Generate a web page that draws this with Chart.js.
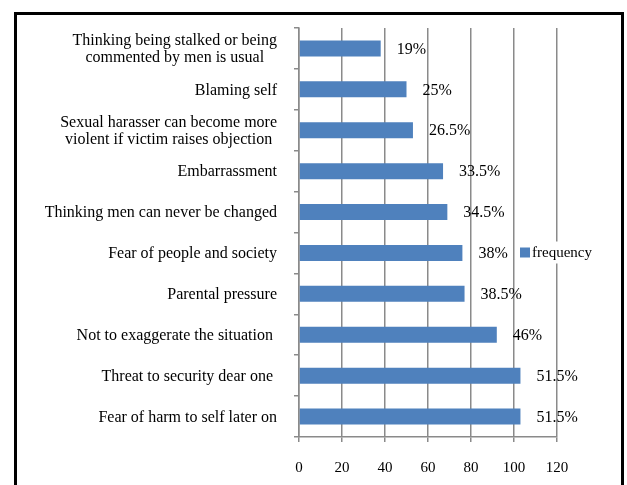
<!DOCTYPE html>
<html>
<head>
<meta charset="utf-8">
<script src="https://cdn.jsdelivr.net/npm/chart.js@4/dist/chart.umd.min.js"></script>
<style>
  body { margin: 0; background: #fff; }
  #frame { position: absolute; left: 14px; top: 12px; width: 604px; height: 500px; border: 3px solid #000; }
  #c { position: absolute; left: 0; top: 0; }
</style>
</head>
<body>
<div id="frame"></div>
<canvas id="c" width="627" height="485"></canvas>
<script>
// categories, top to bottom
const reasons = [
	["Thinking being stalked or being", "commented by men is usual"],
	"Blaming self",
	["Sexual harasser can become more", "violent if victim raises objection"],
	"Embarrassment",
	"Thinking men can never be changed",
	"Fear of people and society",
	"Parental pressure",
	"Not to exaggerate the situation ",
	"Threat to security dear one ",
	"Fear of harm to self later on"
];
const frequency = [38, 50, 53, 67, 69, 76, 77, 92, 103, 103];
const percentLabels = ["19%", "25%", "26.5%", "33.5%", "34.5%", "38%", "38.5%", "46%", "51.5%", "51.5%"];
const xTicks = [0, 20, 40, 60, 80, 100, 120];

const serif16 = '16px "Liberation Serif", "Times New Roman", serif';
const serif15 = '15px "Liberation Serif", "Times New Roman", serif';
const gridGray = '#8a8a8a';

// category names drawn by hand so two-line labels are centred like the original
const yLabels = {
	id: 'yLabels',
	afterDraw(chart) {
		const ctx = chart.ctx;
		const y = chart.scales.y;
		const right = chart.chartArea.left - 22;
		ctx.save();
		ctx.font = serif16;
		ctx.fillStyle = '#000';
		ctx.textBaseline = 'middle';
		ctx.textAlign = 'center';
		reasons.forEach(function(lab, i) {
			const lines = Array.isArray(lab) ? lab : [lab];
			let widest = 0;
			lines.forEach(function(l) { widest = Math.max(widest, ctx.measureText(l).width); });
			const cy = y.getPixelForValue(i);
			const lh = 17;
			lines.forEach(function(l, k) {
				ctx.fillText(l, right - widest / 2, cy + (k - (lines.length - 1) / 2) * lh + 1);
			});
		});
		ctx.restore();
	}
};

// percentage next to each bar
const barLabels = {
	id: 'barLabels',
	afterDatasetsDraw(chart) {
		const ctx = chart.ctx;
		const meta = chart.getDatasetMeta(0);
		ctx.save();
		ctx.font = serif16;
		ctx.fillStyle = '#000';
		ctx.textBaseline = 'middle';
		ctx.textAlign = 'left';
		meta.data.forEach(function(bar, i) {
			ctx.fillText(percentLabels[i], bar.x + 16, bar.y + 1);
		});
		ctx.restore();
	}
};

// legend sits over the plot on a white box
const boxLegend = {
	id: 'boxLegend',
	afterDraw(chart) {
		const ctx = chart.ctx;
		const ca = chart.chartArea;
		const cy = (ca.top + ca.bottom) / 2 + 20;
		const x = ca.right - 37;
		ctx.save();
		ctx.font = serif15;
		ctx.fillStyle = '#fff';
		ctx.fillRect(x - 3, cy - 11, 84, 22);
		ctx.fillStyle = '#4f81bd';
		ctx.fillRect(x, cy - 5, 10, 10);
		ctx.fillStyle = '#000';
		ctx.textBaseline = 'middle';
		ctx.textAlign = 'left';
		ctx.fillText(chart.data.datasets[0].label, x + 12, cy + 1);
		ctx.restore();
	}
};

new Chart(document.getElementById('c').getContext('2d'), {
	type: 'bar',
	data: {
		labels: reasons,
		datasets: [{
			label: 'frequency',
			data: frequency,
			backgroundColor: '#4f81bd',
			borderWidth: 0,
			barPercentage: 0.39,
			categoryPercentage: 1
		}]
	},
	options: {
		indexAxis: 'y',
		responsive: false,
		animation: false,
		layout: { padding: { top: 28, right: 70, bottom: 0, left: 0 } },
		plugins: {
			legend: { display: false },
			tooltip: { enabled: false }
		},
		scales: {
			x: {
				min: 0,
				max: 120,
				afterBuildTicks: function(axis) { axis.ticks = xTicks.map(function(v) { return { value: v }; }); },
				afterFit: function(axis) { axis.height = 48; },
				grid: { color: gridGray, lineWidth: 1.5, tickLength: 5, tickColor: gridGray },
				border: { color: gridGray, width: 1.5 },
				ticks: { font: { family: '"Liberation Serif"', size: 15 }, color: '#000', padding: 17 }
			},
			y: {
				afterFit: function(axis) { axis.width = 299; },
				grid: { drawOnChartArea: false, tickLength: 5, color: gridGray, lineWidth: 1.5 },
				border: { color: gridGray, width: 1.5 },
				ticks: { display: false }
			}
		}
	},
	plugins: [yLabels, barLabels, boxLegend]
});
</script>
</body>
</html>
